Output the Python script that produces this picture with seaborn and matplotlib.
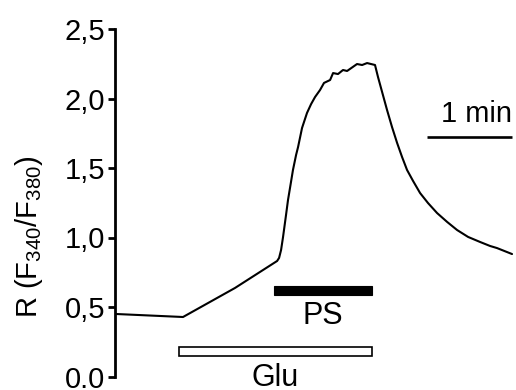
import matplotlib
matplotlib.use("Agg")
import matplotlib.pyplot as plt
from matplotlib.patches import Rectangle
import seaborn as sns
import pandas as pd

# time (s) and fluorescence ratio
time_s = [0, 48.0, 84.7, 114.4, 115.8, 117.2, 118.6, 120.7, 122.1, 124.2, 125.6,
          127.8, 129.2, 132.0, 135.5, 138.4, 141.2, 144.7, 147.5, 151.8, 153.9,
          157.4, 160.9, 163.8, 170.8, 174.4, 177.9, 183.5, 185.6, 188.5, 192.0,
          195.5, 199.1, 202.6, 206.1, 210.4, 215.3, 220.9, 227.3, 234.4, 241.4,
          249.2, 257.6, 264.7, 269.6, 280.2]
ratio = [0.450, 0.428, 0.637, 0.831, 0.853, 0.910, 1.004, 1.162, 1.270, 1.399, 1.486,
         1.594, 1.651, 1.788, 1.896, 1.960, 2.011, 2.061, 2.112, 2.133, 2.183,
         2.176, 2.205, 2.198, 2.248, 2.241, 2.255, 2.241, 2.155, 2.047, 1.917,
         1.795, 1.680, 1.579, 1.486, 1.406, 1.320, 1.248, 1.176, 1.112, 1.054,
         1.004, 0.968, 0.939, 0.924, 0.881]

# stimulus bars
stim_names = ["PS", "Glu"]
stim_start = [112.2, 45.2]
stim_end = [181.4, 181.4]
stim_level = [0.62, 0.177]

yticks = [0.0, 0.5, 1.0, 1.5, 2.0, 2.5]
ytick_labels = ["0.0", "0,5", "1,0", "1,5", "2,0", "2,5"]

scale_start = 220.2
scale_end = 280.2

sns.set_style("white")
plt.rcParams["font.family"] = ["Liberation Sans", "DejaVu Sans"]
plt.rcParams["mathtext.fontset"] = "custom"
plt.rcParams["mathtext.rm"] = "Liberation Sans"
plt.rcParams["mathtext.it"] = "Liberation Sans"
for key in ["text.color", "axes.labelcolor", "xtick.color", "ytick.color",
            "axes.edgecolor"]:
    plt.rcParams[key] = "black"

fig = plt.figure(figsize=(5.16, 3.90), dpi=100)
ax = fig.add_axes([115 / 516, 13.5 / 390, 401 / 516, 347.5 / 390])

df = pd.DataFrame({"t": time_s, "R": ratio})
sns.lineplot(data=df, x="t", y="R", ax=ax, color="black", linewidth=1.5,
             estimator=None, sort=False)

ax.set_xlim(0, 283)
ax.set_ylim(0, 2.5)

# stimulus bars
bar_h = 0.066
for name, s, e, lvl in zip(stim_names, stim_start, stim_end, stim_level):
    if name == "PS":
        ax.add_patch(Rectangle((s, lvl - bar_h / 2), e - s, bar_h,
                               facecolor="black", edgecolor="black",
                               linewidth=0.8, clip_on=False))
        ax.text((s + e) / 2, lvl - 0.185, name, ha="center", va="center",
                fontsize=22, clip_on=False)
    else:
        ax.add_patch(Rectangle((s, lvl - bar_h / 2), e - s, bar_h,
                               facecolor="white", edgecolor="black",
                               linewidth=1.2, clip_on=False))
        ax.text((s + e) / 2, lvl - 0.19, name, ha="center", va="center",
                fontsize=22, clip_on=False)

# time scale bar
ax.plot([scale_start, scale_end], [1.723, 1.723], color="black",
        linewidth=1.9, clip_on=False, solid_capstyle="butt")
ax.text(254.8, 1.83, "1 min", ha="center", va="baseline", fontsize=21,
        clip_on=False)

ax.set_yticks(yticks)
ax.set_yticklabels(ytick_labels, fontsize=21)
ax.set_xticks([])
ax.set_xlabel("")
ax.set_ylabel(r"R (F$_{\mathrm{340}}$/F$_{\mathrm{380}}$)", fontsize=21,
              va="center")
ax.yaxis.set_label_coords(-0.2145, 0.401)

for side in ["top", "right", "bottom"]:
    ax.spines[side].set_visible(False)
ax.spines["left"].set_linewidth(2.0)
ax.tick_params(axis="y", direction="out", length=5, width=2.0, pad=2, left=True)

fig.savefig("out.png", dpi=100)
